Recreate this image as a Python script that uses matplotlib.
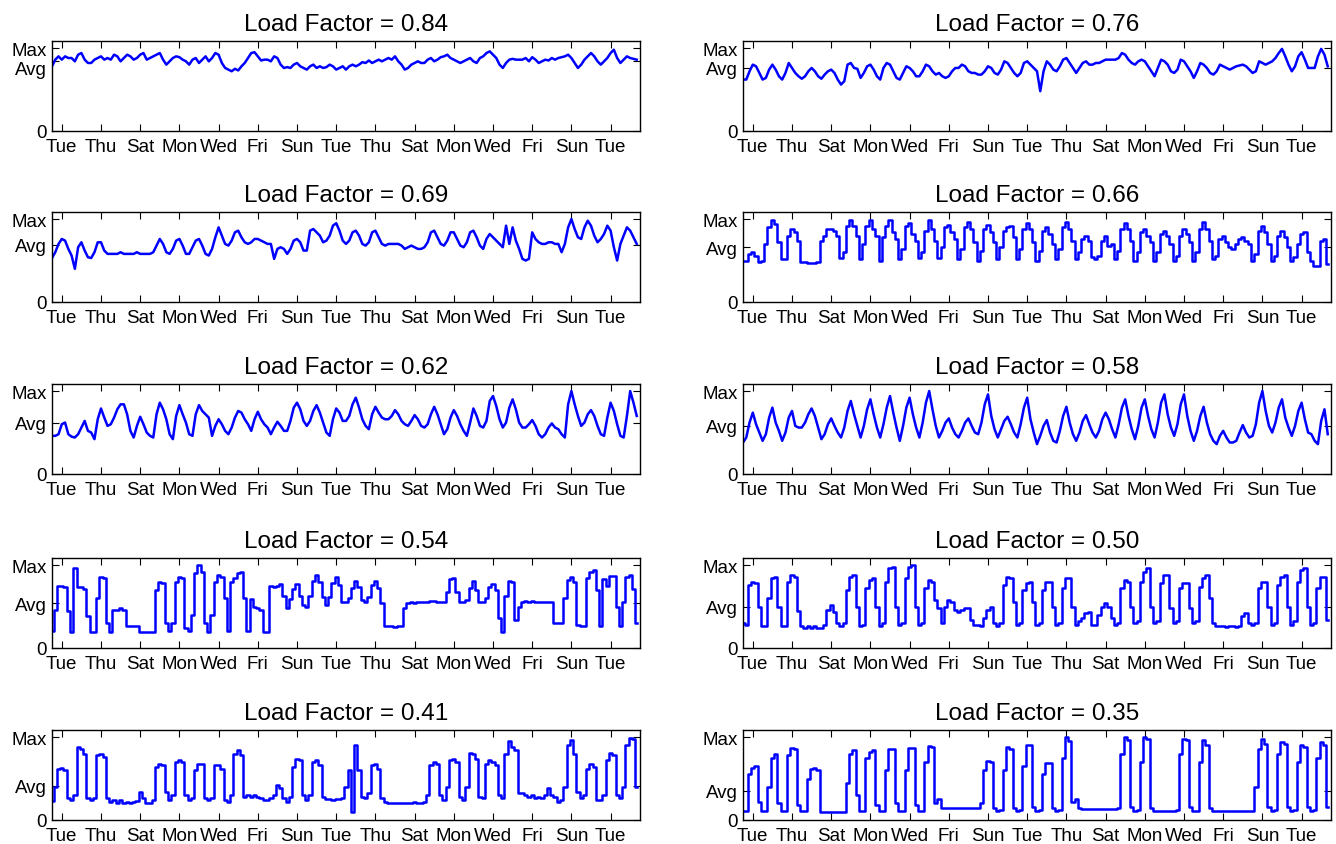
import numpy as np
import matplotlib
matplotlib.use("Agg")
import matplotlib.pyplot as plt
import matplotlib.transforms as mtransforms

plt.rcParams.update({"font.family": ["Liberation Sans", "DejaVu Sans"], "axes.linewidth": 1.0})

load_factors = [0.84, 0.76, 0.69, 0.66, 0.62, 0.58, 0.54, 0.50, 0.41, 0.35]
day_names = ["Tue", "Thu", "Sat", "Mon", "Wed", "Fri", "Sun", "Tue",
             "Thu", "Sat", "Mon", "Wed", "Fri", "Sun", "Tue"]
per_day = 6  # readings at 00, 04, 08, 12, 16, 20 h

# load in % of the peak, 30 days, one line = 5 days
lf84 = [78,86,90,86,90,88, 88,84,92,94,86,82, 82,86,88,90,86,88, 86,92,90,84,88,92, 90,86,88,92,94,86,
        88,90,92,94,86,80, 84,88,90,89,86,84, 80,86,88,82,86,90, 84,88,94,92,82,76, 74,72,75,73,78,82,
        88,94,95,90,85,86, 86,84,90,88,80,76, 77,76,80,82,78,76, 74,78,80,76,78,76, 77,80,78,74,76,78,
        74,78,80,78,80,83, 82,85,82,84,86,84, 86,88,86,90,84,80, 74,76,80,82,84,82, 82,86,88,84,86,89,
        90,92,88,86,84,82, 84,86,88,84,82,88, 90,94,96,92,88,80, 76,82,86,87,86,86, 86,88,84,89,86,82,
        84,86,85,88,86,88, 89,90,92,88,82,76, 80,86,90,94,90,84, 80,84,88,94,98,88, 82,86,90,88,87,86]
lf76 = [62,62,72,80,78,70, 62,64,74,80,74,66, 62,70,82,76,70,66, 63,66,72,76,72,66, 63,68,72,74,70,62,
        56,60,80,82,76,75, 64,70,78,80,74,66, 62,76,82,80,72,64, 62,70,78,76,72,66, 66,72,80,78,72,68,
        70,66,64,66,72,76, 76,80,78,72,70,70, 68,68,72,78,76,70, 68,74,84,82,76,70, 66,70,82,84,80,76,
        72,48,72,84,80,74, 72,78,86,88,82,76, 70,76,82,84,80,80, 82,82,84,86,86,86, 86,88,94,92,86,82,
        80,84,86,84,78,72, 66,76,86,84,80,72, 70,74,86,84,78,72, 64,72,82,80,76,70, 68,72,80,78,76,74,
        76,78,79,80,78,74, 70,72,84,82,80,82, 84,88,94,99,90,80, 72,78,90,95,86,76, 76,76,90,99,92,78]
lf69 = [53,60,70,76,74,64, 56,40,66,72,62,54, 53,60,72,72,62,58, 58,58,58,60,58,58, 58,58,60,58,58,58,
        58,60,68,76,70,60, 58,64,74,76,68,58, 58,66,74,76,68,58, 56,64,78,90,80,70, 68,74,84,86,78,72,
        70,72,76,76,74,72, 70,70,52,64,66,64, 58,64,74,76,72,62, 62,86,88,84,80,72, 74,80,92,95,86,74,
        70,74,84,86,80,70, 68,72,84,86,78,70, 68,70,70,70,70,68, 64,66,68,66,64,64, 66,72,84,86,78,70,
        68,74,84,84,76,68, 66,72,84,86,78,68, 64,76,82,78,74,70, 66,92,70,90,74,64, 52,50,52,84,76,72,
        70,70,72,72,70,70, 60,70,90,100,88,78, 76,90,98,92,80,72, 76,82,92,86,66,50, 70,80,90,86,78,70]
lf66 = [49,50,58,60,56,48, 50,70,90,99,94,72, 52,52,80,88,84,74, 48,48,47,47,47,48, 74,80,88,88,86,80,
        53,60,92,99,92,80, 52,70,92,99,88,80, 50,78,92,99,84,76, 52,64,92,95,82,74, 53,60,86,99,88,74,
        53,66,90,93,84,76, 52,64,90,97,88,72, 50,62,88,93,84,72, 52,66,86,90,92,78, 52,64,88,95,88,72,
        50,62,86,90,82,70, 52,64,90,97,88,74, 52,60,76,80,74,54, 52,56,74,80,68,70, 52,62,88,95,88,74,
        50,60,84,88,80,72, 50,60,82,86,80,70, 50,56,80,88,82,72, 50,60,88,96,88,74, 52,56,76,80,72,66,
        64,70,76,78,74,70, 50,58,86,92,84,70, 50,56,80,86,78,66, 50,54,70,82,84,60, 50,44,44,74,76,46]
lf62 = [46,46,48,60,62,48, 45,44,48,56,64,52, 50,42,66,79,68,58, 60,68,78,84,84,72, 52,44,58,69,60,50,
        46,44,72,86,78,66, 48,42,70,83,72,62, 48,46,72,83,76,72, 68,46,58,66,60,52, 48,56,68,76,74,66,
        60,52,66,75,66,60, 56,48,56,63,58,52, 52,64,80,86,78,64, 58,64,76,83,74,62, 50,46,66,79,74,64,
        64,70,84,92,80,66, 58,54,72,81,74,68, 66,66,70,77,72,64, 60,58,64,71,66,58, 56,60,72,81,72,60,
        48,54,68,77,70,60, 52,46,62,79,70,58, 56,64,88,94,82,66, 56,62,80,90,78,62, 56,56,60,65,58,48,
        44,48,56,61,56,54, 48,44,84,100,84,70, 58,62,72,77,70,58, 48,46,68,86,76,60, 46,44,70,100,86,70]
lf58 = [38,44,62,74,60,50, 40,48,68,80,62,52, 40,50,68,76,58,56, 56,62,72,79,70,56, 42,48,60,67,58,50,
        44,56,76,88,72,58, 44,58,78,90,72,56, 44,60,80,94,74,56, 40,58,80,92,72,56, 44,62,86,100,78,58,
        44,52,62,67,56,48, 44,52,62,67,58,50, 48,62,84,96,70,54, 44,54,64,69,60,50, 44,60,80,92,66,50,
        36,46,58,65,50,40, 38,52,70,81,62,48, 40,50,64,71,60,50, 44,52,66,74,66,54, 44,60,80,90,70,54,
        42,58,80,90,70,54, 44,62,86,96,72,56, 46,60,84,96,70,52, 40,52,70,81,62,48, 40,36,46,52,44,38,
        38,40,50,59,50,44, 46,60,86,100,76,58, 50,62,80,90,68,56, 46,58,76,86,66,50, 48,40,36,64,78,48]
lf54 = [21,46,75,75,73,45, 19,96,73,73,71,38, 19,19,60,85,84,30, 19,46,46,48,46,26, 26,26,26,19,19,19,
        19,19,70,79,78,30, 21,30,80,86,84,24, 21,40,90,100,92,30, 19,40,80,88,86,60, 21,80,84,90,92,60,
        21,59,50,48,46,19, 19,75,73,75,77,63, 48,59,71,77,63,52, 50,63,81,88,79,61, 52,62,78,86,76,55,
        55,60,72,81,74,58, 55,62,76,81,72,54, 26,26,26,25,26,26, 48,54,55,54,56,55, 55,56,57,57,56,55,
        55,67,83,84,67,55, 55,58,72,81,70,55, 55,60,74,77,70,36, 19,63,81,79,34,50, 56,57,56,57,56,56,
        56,55,56,55,30,30, 30,60,82,86,80,28, 26,26,84,92,94,70, 26,83,75,87,87,50, 26,55,86,88,71,30]
lf50 = [30,28,76,80,78,50, 26,26,60,84,86,50, 26,26,80,88,86,45, 26,24,26,24,26,24, 24,28,46,52,44,30,
        26,30,70,86,88,50, 26,28,72,82,84,50, 26,30,80,96,98,50, 28,30,84,98,100,50, 28,30,72,82,80,58,
        48,30,50,58,56,46, 44,46,48,48,34,28, 28,26,36,46,50,30, 26,30,76,86,84,55, 28,30,70,78,80,55,
        28,30,70,80,80,50, 28,30,72,84,84,50, 28,32,36,42,44,28, 28,40,50,54,50,36, 28,30,72,82,80,50,
        30,32,80,92,96,50, 30,32,78,88,88,48, 30,32,72,78,78,48, 30,32,74,84,88,60, 30,26,26,26,25,26,
        26,25,26,38,42,30, 28,30,72,80,80,50, 28,30,76,86,88,50, 28,32,80,94,96,50, 28,30,72,86,86,34]
lf41 = [23,40,62,63,60,26, 24,30,88,86,80,26, 24,26,78,80,76,26, 22,24,21,24,20,22, 20,22,23,34,26,20,
        20,24,64,68,66,34, 24,30,70,72,70,30, 24,26,60,68,68,26, 24,26,66,66,62,24, 22,30,80,84,78,28,
        30,28,30,28,26,24, 24,26,30,42,38,26, 22,28,64,74,72,30, 24,30,70,72,66,28, 25,25,24,25,25,26,
        40,60,10,91,60,28, 26,32,66,68,62,26, 22,21,21,20,21,20, 21,20,21,22,21,20, 22,30,66,70,68,30,
        24,40,72,74,70,28, 24,40,81,80,74,28, 26,68,72,70,66,30, 26,80,95,88,84,33, 32,30,28,30,26,28,
        26,30,38,30,28,22, 24,40,90,97,80,34, 26,30,62,68,64,24, 24,30,72,81,78,30, 26,40,90,99,98,40]
lf35 = [11,11,55,63,65,22, 11,11,40,75,80,20, 11,11,78,87,86,18, 11,11,50,62,63,60, 10,10,10,10,10,10,
        10,10,45,80,84,30, 11,11,75,82,84,18, 11,11,60,86,86,20, 11,11,60,87,87,18, 11,11,70,89,88,20,
        25,14,14,14,14,14, 14,14,14,14,14,14, 14,20,60,71,70,14, 11,12,60,88,86,14, 11,12,65,90,90,16,
        11,12,55,69,69,14, 11,12,75,100,95,22, 25,14,13,13,13,13, 13,13,13,13,13,13, 13,14,80,100,96,16,
        11,12,70,100,98,14, 11,11,11,11,11,11, 11,12,80,98,96,16, 11,11,70,96,90,14, 11,11,11,11,11,11,
        11,11,11,11,11,11, 11,40,85,98,92,16, 11,12,80,94,92,16, 11,12,70,90,88,16, 11,12,75,94,90,16]

series = [lf84, lf76, lf69, lf66, lf62, lf58, lf54, lf50, lf41, lf35]
# on/off loads have sharp edges: draw those as steps
draw = ["default", "default", "default", "steps-mid", "default",
        "default", "steps-mid", "steps-mid", "steps-mid", "steps-mid"]
t = np.arange(len(lf84)) / per_day

W, H = 1336, 845
col_x = [52, 743]
row_top = [42, 213, 385, 559, 731]
aw, ah = 588, 90

fig = plt.figure(figsize=(W / 100, H / 100), dpi=100)
for i, (lf, y) in enumerate(zip(load_factors, series)):
    r, c = divmod(i, 2)
    ax = fig.add_axes([col_x[c] / W, 1 - (row_top[r] + ah) / H, aw / W, ah / H])
    ax.plot(t, y, color="#0000ff", lw=1.8, drawstyle=draw[i])
    ax.set_xlim(0, 30)
    ax.set_ylim(0, 108.5)
    ax.set_xticks(np.arange(len(day_names)) * 2 + 0.5, day_names)
    ax.set_yticks([0, lf * 100, 100], ["0", "Avg", "Max"])
    ax.tick_params(direction="in", top=True, right=True, length=5, width=0.8,
                   labelsize=13.5, pad=3.5, colors="black")
    ax.tick_params(axis="x", pad=5)
    if lf > 0.8:
        # Avg sits right under Max: nudge its label down so they don't collide
        lab = ax.get_yticklabels()[1]
        lab.set_transform(lab.get_transform() +
                          mtransforms.ScaledTranslation(0, -4.5 / 72, fig.dpi_scale_trans))
    ax.set_title(f"Load Factor = {lf:.2f}", fontsize=17.5, pad=8)

fig.savefig("out.png", dpi=100, facecolor="white")
